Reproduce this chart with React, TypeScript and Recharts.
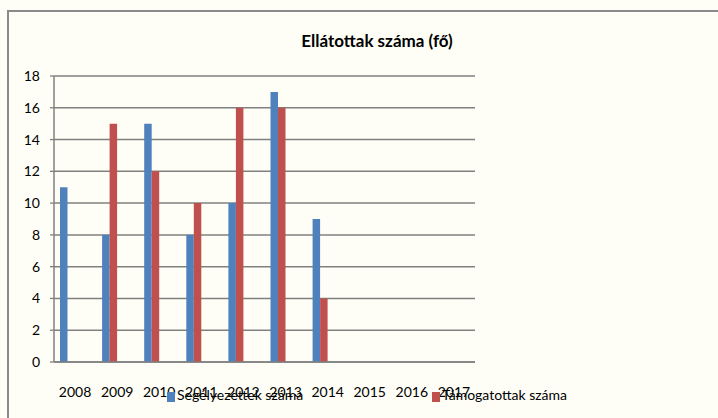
import React from 'react';
import { BarChart, Bar, XAxis, YAxis, CartesianGrid } from 'recharts';

const years = ['2008', '2009', '2010', '2011', '2012', '2013', '2014', '2015', '2016', '2017'];
const segelyezettek: (number | null)[] = [11, 8, 15, 8, 10, 17, 9, null, null, null];
const tamogatottak: (number | null)[] = [null, 15, 12, 10, 16, 16, 4, null, null, null];
const yTicks = [0, 2, 4, 6, 8, 10, 12, 14, 16, 18];
const boundaryTicks = [0, 1, 2, 3, 4, 5, 6, 7, 8, 9, 10];
const seriesNames = ['Segélyezettek száma', 'Támogatottak száma'];
const seriesColors = ['#4F81BD', '#C0504D'];
const title = 'Ellátottak száma (fő)';

const data = years.map((y, i) => ({
  year: y,
  seg: segelyezettek[i],
  tam: tamogatottak[i],
  ghost: null,
}));

const FONT = 'Lato, "Open Sans", sans-serif';
const GRID = '#808080';

export default function App() {
  return (
    <div
      style={{
        position: 'absolute',
        left: 0,
        top: 0,
        width: 718,
        height: 418,
        background: '#FEFEF6',
        fontFamily: FONT,
        overflow: 'hidden',
      }}
    >
      <div
        style={{
          position: 'absolute',
          left: 7,
          top: 10,
          width: 711,
          height: 408,
          borderLeft: '2px solid #8a8a8a',
          borderTop: '2px solid #8a8a8a',
          boxSizing: 'border-box',
        }}
      />
      <div
        style={{
          position: 'absolute',
          left: 277,
          top: 31,
          width: 200,
          textAlign: 'center',
          fontSize: 17,
          fontWeight: 700,
          color: '#000',
          lineHeight: '20px',
        }}
      >
        {title}
      </div>
      <div style={{ position: 'absolute', left: 0, top: 0 }}>
        <BarChart
          width={718}
          height={418}
          data={data}
          margin={{ top: 76, right: 243, bottom: 26, left: 0 }}
          barGap={0}
        >
          <CartesianGrid horizontal vertical={false} stroke={GRID} strokeWidth={1.5} />
          <XAxis
            dataKey="year"
            xAxisId="cat"
            height={30}
            axisLine={{ stroke: GRID, strokeWidth: 1.5 }}
            tickLine={false}
            tickSize={0}
            tickMargin={25}
            interval={0}
            tick={{ fill: '#000', fontSize: 14, fontFamily: FONT }}
          />
          <XAxis
            xAxisId="bound"
            type="number"
            domain={[0, 10]}
            ticks={boundaryTicks}
            height={0}
            axisLine={false}
            tickSize={5}
            tickLine={{ stroke: GRID, strokeWidth: 1.3 }}
            tick={() => <g />}
            allowDataOverflow
          />
          <YAxis
            width={54}
            domain={[0, 18]}
            ticks={yTicks}
            interval={0}
            axisLine={{ stroke: GRID, strokeWidth: 1.5 }}
            tickLine={{ stroke: GRID, strokeWidth: 1.3 }}
            tickSize={4}
            tickMargin={10}
            tick={{ fill: '#000', fontSize: 14, fontFamily: FONT }}
          />
          <Bar dataKey="seg" xAxisId="cat" fill={seriesColors[0]} barSize={7.5} isAnimationActive={false} />
          <Bar dataKey="tam" xAxisId="cat" fill={seriesColors[1]} barSize={7.5} isAnimationActive={false} />
          <Bar dataKey="ghost" xAxisId="cat" fill="none" barSize={15} isAnimationActive={false} />
        </BarChart>
      </div>
      {seriesNames.map((name, i) => (
        <div
          key={name}
          style={{
            position: 'absolute',
            left: i === 0 ? 167 : 432,
            top: 385,
            display: 'flex',
            alignItems: 'center',
            fontSize: 14,
            color: '#000',
            lineHeight: '20px',
          }}
        >
          <span
            style={{
              display: 'inline-block',
              width: 8,
              height: 10,
              background: seriesColors[i],
              marginRight: 2,
              marginTop: 4,
            }}
          />
          <span>{name}</span>
        </div>
      ))}
    </div>
  );
}
